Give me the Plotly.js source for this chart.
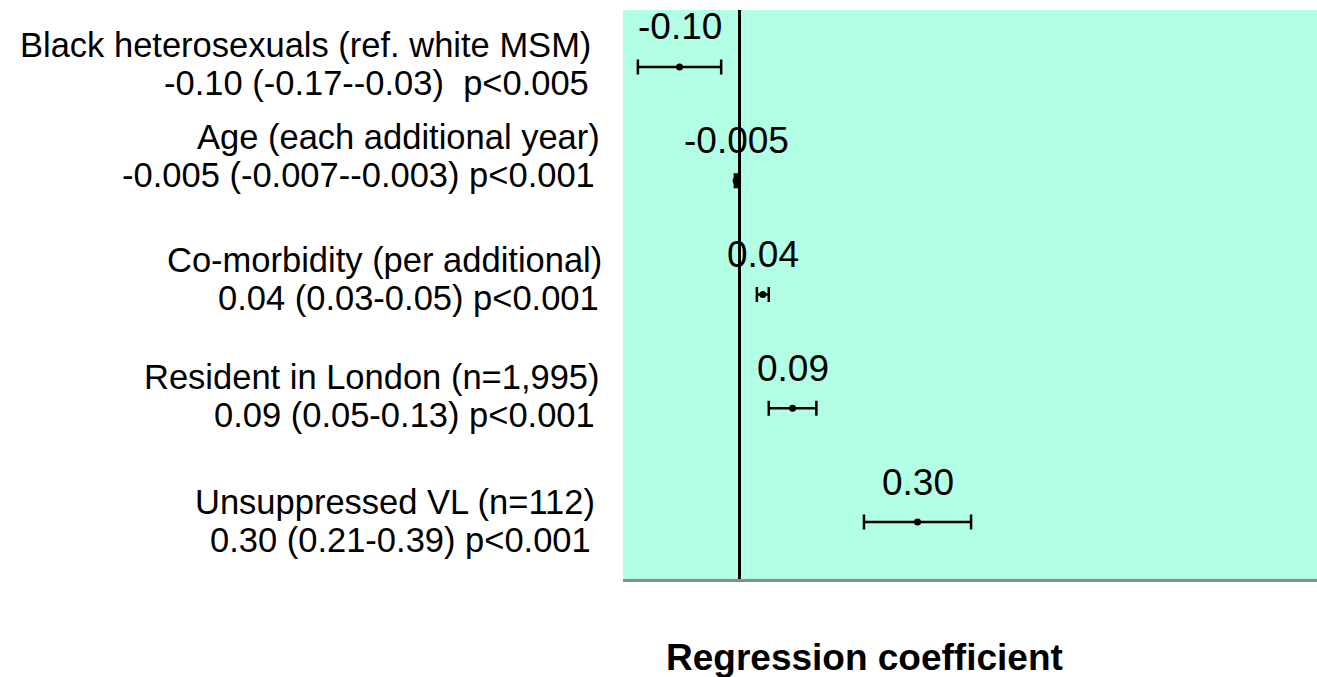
<!DOCTYPE html>
<html>
<head>
<meta charset="utf-8">
<script src="https://cdn.plot.ly/plotly-3.0.1.min.js"></script>
<style>html,body{margin:0;padding:0;background:#fff;}#chart{width:1317px;height:677px;}</style>
</head>
<body>
<div id="chart"></div>
<script>
// ---- data ----
const categories = [
  'Black heterosexuals (ref. white MSM)',
  'Age (each additional year)',
  'Co-morbidity (per additional)',
  'Resident in London (n=1,995)',
  'Unsuppressed VL (n=112)'
];
const statLines = [
  '-0.10 (-0.17--0.03)\u00A0 p<0.005',
  '-0.005 (-0.007--0.003) p<0.001',
  '0.04 (0.03-0.05) p<0.001',
  '0.09 (0.05-0.13) p<0.001',
  '0.30 (0.21-0.39) p<0.001'
];
const coef = [-0.10, -0.005, 0.04, 0.09, 0.30];
const ciLow = [-0.17, -0.007, 0.03, 0.05, 0.21];
const ciHigh = [-0.03, -0.003, 0.05, 0.13, 0.39];
const valueLabels = ['-0.10', '-0.005', '0.04', '0.09', '0.30'];
const axisTitle = 'Regression coefficient';

// ---- layout tuning (pixel nudges for the left-hand labels) ----
const labelNudge = [3, 25, 16, 12, 1];
const nameXNudge = [-4, 5, 7, 5, 0];
const statXNudge = [-6, 0, 4, 0, -4];
const FONT = 'Liberation Sans, Arial, sans-serif';

const trace = {
  type: 'scatter',
  mode: 'markers',
  x: coef,
  y: categories,
  marker: {color: '#000', size: 7},
  error_x: {
    type: 'data',
    symmetric: false,
    array: coef.map((c, i) => ciHigh[i] - c),
    arrayminus: coef.map((c, i) => c - ciLow[i]),
    color: '#000',
    thickness: 2.5,
    width: 7.5
  },
  hoverinfo: 'skip',
  showlegend: false,
  cliponaxis: false
};

const annotations = [];
categories.forEach((cat, i) => {
  annotations.push({
    xref: 'x', yref: 'y', x: coef[i], y: cat,
    text: valueLabels[i], showarrow: false,
    xanchor: 'center', yanchor: 'middle', yshift: 40,
    font: {family: FONT, size: 37, color: '#000'}
  });
  annotations.push({
    xref: 'paper', yref: 'y', x: 0, y: cat,
    text: cat, showarrow: false,
    xanchor: 'right', yanchor: 'middle', xshift: -26 + nameXNudge[i], yshift: 19 + labelNudge[i],
    font: {family: FONT, size: 34.5, color: '#000'}
  });
  annotations.push({
    xref: 'paper', yref: 'y', x: 0, y: cat,
    text: statLines[i], showarrow: false,
    xanchor: 'right', yanchor: 'middle', xshift: -26 + statXNudge[i], yshift: -19 + labelNudge[i],
    font: {family: FONT, size: 34.5, color: '#000'}
  });
});
annotations.push({
  xref: 'paper', yref: 'paper', x: 0.3487, y: 0,
  text: '<b>' + axisTitle + '</b>', showarrow: false,
  xanchor: 'center', yanchor: 'middle', yshift: -78,
  font: {family: FONT, size: 37, color: '#000'}
});

const layout = {
  width: 1317, height: 677,
  margin: {l: 623, r: 0, t: 10, b: 98, pad: 0},
  paper_bgcolor: '#ffffff',
  plot_bgcolor: 'rgb(179,255,229)',
  xaxis: {
    range: [-0.195, 0.9714],
    showgrid: false,
    showticklabels: false,
    ticks: '',
    zeroline: true, zerolinecolor: '#000', zerolinewidth: 3,
    showline: true, linecolor: '#8c8c8c', linewidth: 3
  },
  yaxis: {
    type: 'category',
    categoryarray: categories,
    range: [4.5, -0.5],
    autorange: false,
    showgrid: false, showticklabels: false, ticks: '', zeroline: false, showline: false
  },
  annotations: annotations,
  showlegend: false
};

Plotly.newPlot('chart', [trace], layout, {staticPlot: true, displayModeBar: false});
</script>
</body>
</html>
